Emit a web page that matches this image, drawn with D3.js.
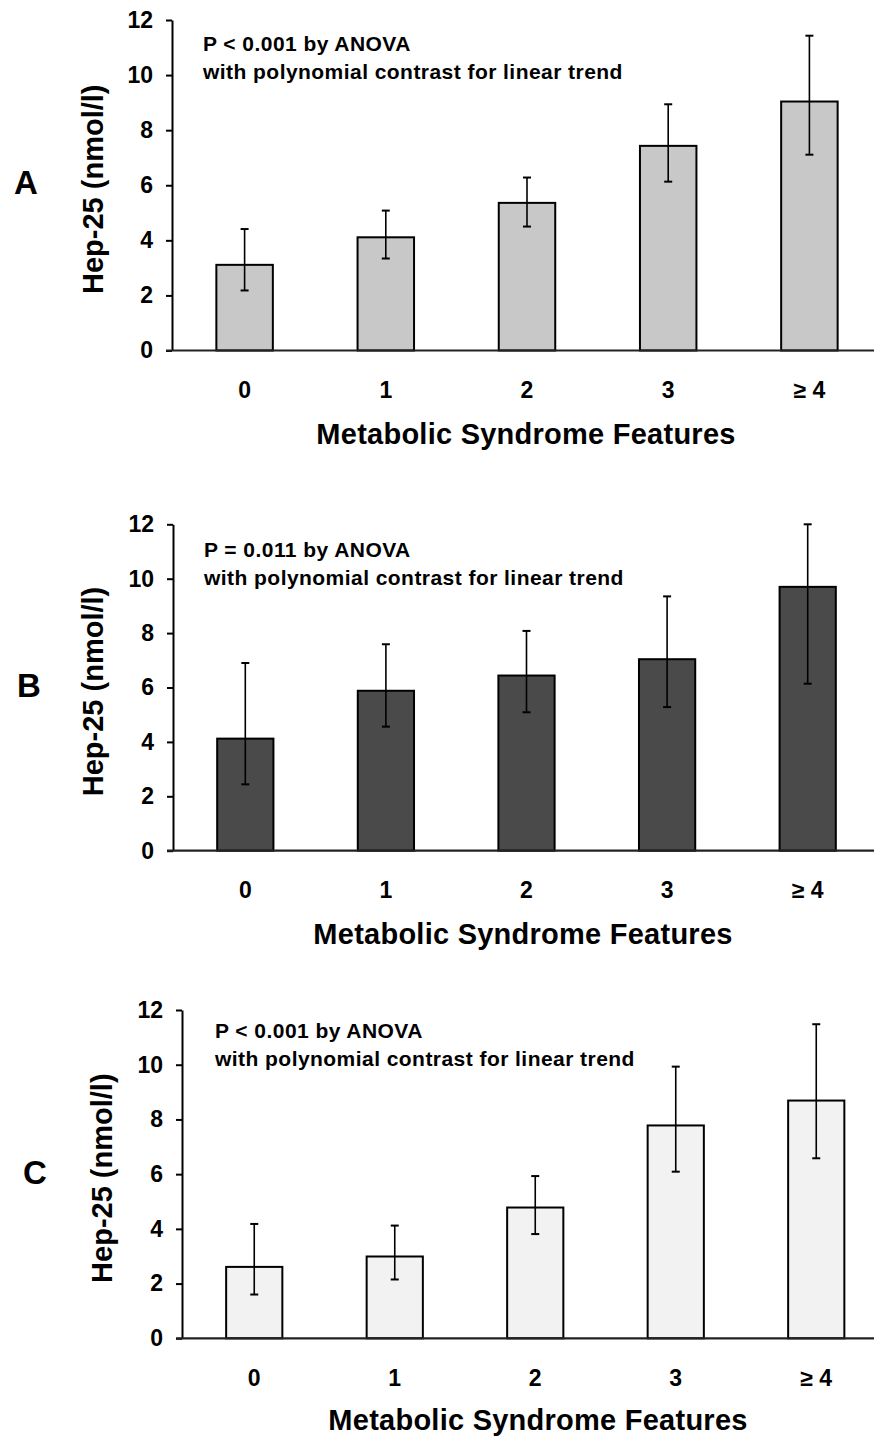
<!DOCTYPE html>
<html>
<head>
<meta charset="utf-8">
<script src="https://cdn.jsdelivr.net/npm/d3@7/dist/d3.min.js"></script>
<style>
  html, body { margin: 0; padding: 0; background: #fff; }
  svg { display: block; }
  text { font-family: "Liberation Sans", Arial, Helvetica, sans-serif; font-weight: bold; fill: #000; }
</style>
</head>
<body>
<svg id="chart" width="874" height="1436"></svg>
<script>
// ---- data ----
const categories = ["0", "1", "2", "3", "\u2265 4"];
const yTicks = [0, 2, 4, 6, 8, 10, 12];
const yTitle = "Hep-25 (nmol/l)";
const xTitle = "Metabolic Syndrome Features";

const panelLabels = ["A", "B", "C"];
const pLines = ["P < 0.001 by ANOVA", "P = 0.011 by ANOVA", "P < 0.001 by ANOVA"];
const trendLine = "with polynomial contrast for linear trend";

const meansA = [3.11, 4.11, 5.36, 7.43, 9.04];
const lowA   = [2.18, 3.34, 4.50, 6.13, 7.11];
const highA  = [4.41, 5.08, 6.28, 8.94, 11.43];

const meansB = [4.12, 5.88, 6.44, 7.04, 9.70];
const lowB   = [2.44, 4.56, 5.09, 5.28, 6.14];
const highB  = [6.90, 7.59, 8.08, 9.35, 12.00];

const meansC = [2.61, 2.99, 4.78, 7.78, 8.69];
const lowC   = [1.60, 2.15, 3.81, 6.09, 6.58];
const highC  = [4.18, 4.12, 5.93, 9.93, 11.48];

// ---- layout (per panel) ----
const panels = [
  { label: panelLabels[0], p: pLines[0], means: meansA, low: lowA, high: highA, fill: "#c8c8c8",
    axisX: 172, yTop: 20, yBot: 350.5, step: 141.2, annX: 203, annY: 51, tickY: 398, titleY: 444, titleX: 526,
    yTitleX: 103, letterX: 14, letterY: 194 },
  { label: panelLabels[1], p: pLines[1], means: meansB, low: lowB, high: highB, fill: "#4a4a4a",
    axisX: 173, yTop: 524.3, yBot: 850.7, step: 140.6, annX: 204, annY: 557, tickY: 898, titleY: 944, titleX: 523,
    yTitleX: 103, letterX: 17, letterY: 697 },
  { label: panelLabels[2], p: pLines[2], means: meansC, low: lowC, high: highC, fill: "#f2f2f2",
    axisX: 182, yTop: 1010, yBot: 1338.3, step: 140.5, annX: 215, annY: 1038, tickY: 1386, titleY: 1430, titleX: 538,
    yTitleX: 112, letterX: 23, letterY: 1184 }
];

const svg = d3.select("#chart");

panels.forEach(P => {
  const g = svg.append("g");
  const y = d3.scaleLinear().domain([0, 12]).range([P.yBot, P.yTop]);
  const x0 = P.axisX + 2;
  const x = d3.scaleBand().domain(categories).range([x0, x0 + P.step * categories.length]).padding(0);
  const bw = x.bandwidth() * 0.4;
  const rows = categories.map((c, i) => ({ c, m: P.means[i], lo: P.low[i], hi: P.high[i] }));

  // bars
  g.selectAll("rect.bar").data(rows).join("rect")
    .attr("class", "bar")
    .attr("x", d => x(d.c) + x.bandwidth() / 2 - bw / 2)
    .attr("width", bw)
    .attr("y", d => y(d.m))
    .attr("height", d => y(0) - y(d.m))
    .attr("fill", P.fill)
    .attr("stroke", "#000")
    .attr("stroke-width", 2);

  // error bars
  const cx = d => x(d.c) + x.bandwidth() / 2;
  g.selectAll("line.err").data(rows).join("line")
    .attr("class", "err")
    .attr("x1", cx).attr("x2", cx)
    .attr("y1", d => y(d.lo)).attr("y2", d => y(d.hi))
    .attr("stroke", "#000").attr("stroke-width", 1.6);
  ["lo", "hi"].forEach(k => {
    g.selectAll("line.cap" + k).data(rows).join("line")
      .attr("class", "cap" + k)
      .attr("x1", d => cx(d) - 4).attr("x2", d => cx(d) + 4)
      .attr("y1", d => y(d[k])).attr("y2", d => y(d[k]))
      .attr("stroke", "#000").attr("stroke-width", 2);
  });

  // y axis
  const yAxis = d3.axisLeft(y).tickValues(yTicks).tickSize(6).tickSizeOuter(0).tickPadding(13);
  const ya = g.append("g").attr("transform", `translate(${P.axisX},0)`).call(yAxis);
  ya.select(".domain").attr("stroke", "#000").attr("stroke-width", 2);
  ya.selectAll(".tick line").attr("stroke", "#000").attr("stroke-width", 2);
  ya.selectAll(".tick text").attr("font-size", 23).attr("font-family", null).attr("font-weight", "bold").attr("fill", "#000");

  // x baseline
  g.append("line")
    .attr("x1", P.axisX - 6).attr("x2", 874)
    .attr("y1", y(0)).attr("y2", y(0))
    .attr("stroke", "#222").attr("stroke-width", 2.2);

  // x axis labels
  const xAxis = d3.axisBottom(x).tickSize(0).tickSizeOuter(0);
  const xa = g.append("g").attr("transform", `translate(0,${P.tickY})`).call(xAxis);
  xa.select(".domain").remove();
  xa.selectAll(".tick text").attr("y", 0).attr("dy", 0)
    .attr("font-size", 23).attr("font-family", null).attr("font-weight", "bold").attr("fill", "#000");

  // titles
  g.append("text").attr("x", P.titleX).attr("y", P.titleY)
    .attr("text-anchor", "middle").attr("font-size", 29).attr("letter-spacing", 0.25).text(xTitle);
  g.append("text")
    .attr("transform", `translate(${P.yTitleX},${(P.yTop + P.yBot) / 2 + 4}) rotate(-90)`)
    .attr("text-anchor", "middle").attr("font-size", 29).text(yTitle);

  // annotation
  g.append("text").attr("x", P.annX).attr("y", P.annY).attr("font-size", 21).attr("letter-spacing", 0.45).text(P.p);
  g.append("text").attr("x", P.annX).attr("y", P.annY + 28).attr("font-size", 21).attr("letter-spacing", 0.45).text(trendLine);

  // panel letter
  g.append("text").attr("x", P.letterX).attr("y", P.letterY).attr("font-size", 33).text(P.label);
});
</script>
</body>
</html>
